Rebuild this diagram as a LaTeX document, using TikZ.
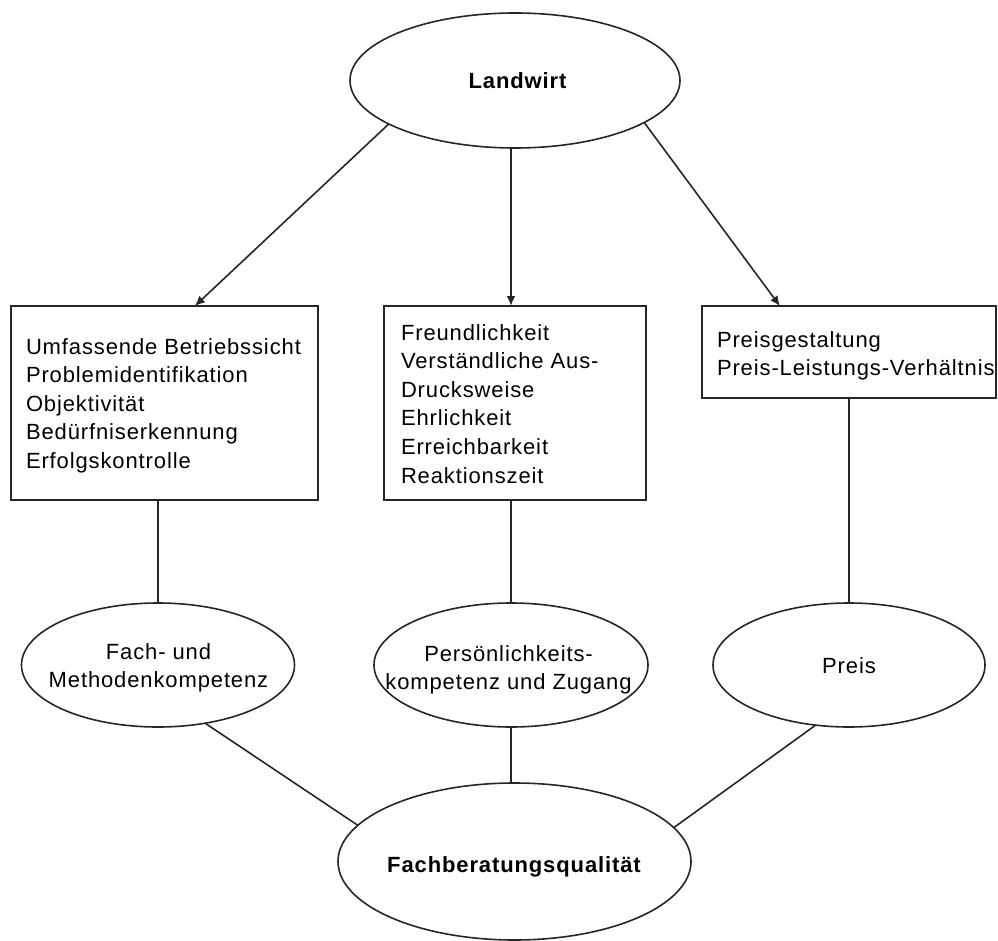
\documentclass[tikz,border=0pt]{standalone}
\usepackage{fontspec}
\setmainfont{Liberation Sans}[LetterSpace=4]
\usetikzlibrary{shapes.geometric,arrows.meta,calc}

\begin{document}
\begin{tikzpicture}[x=1pt,y=-1pt,
  every node/.style={inner sep=0pt,outer sep=0pt},
  oval/.style={ellipse,draw=black!85,line width=1.6pt},
  boxnode/.style={rectangle,draw=black!85,line width=2pt},
  txt/.style={font=\fontsize{22}{28.6}\selectfont,text=black},
  btxt/.style={font=\fontsize{22}{28.6}\selectfont\bfseries,text=black},
  link/.style={draw=black!85,line width=1.6pt},
  vlink/.style={draw=black!85,line width=2pt},
  arr/.style={link,-{Latex[length=10pt,width=9pt]}}]

% page frame
\useasboundingbox (0,0) rectangle (998,941);

% top: the farmer
\node[oval,minimum width=330,minimum height=135] (L) at (515,80.5) {};
\node[btxt,anchor=base] (Lt) at (517.5,89) {Landwirt};

% criteria boxes
\node[boxnode,minimum width=307,minimum height=194] (b1) at (164.5,403) {};
\node[boxnode,minimum width=262,minimum height=194] (b2) at (515,403) {};
\node[boxnode,minimum width=294,minimum height=92] (b3) at (849,352) {};

\node[txt,anchor=north west,align=left] (b1t) at (26,336)
  {\rule{0pt}{18pt}Umfassende Betriebssicht\\Problemidentifikation\\Objektivität\\Bedürfniserkennung\\Erfolgskontrolle};
\node[txt,anchor=north west,align=left] (b2t) at (401,322)
  {\rule{0pt}{18pt}Freundlichkeit\\Verständliche Aus-\\Drucksweise\\Ehrlichkeit\\Erreichbarkeit\\Reaktionszeit};
\node[txt,anchor=north west,align=left] (b3t) at (717,329)
  {\rule{0pt}{18pt}Preisgestaltung\\Preis-Leistungs-Verhältnis};

% competence ellipses
\node[oval,minimum width=273,minimum height=124] (e1) at (158,665) {};
\node[oval,minimum width=274,minimum height=124] (e2) at (511,665) {};
\node[oval,minimum width=272,minimum height=124] (e3) at (849,665) {};

\node[txt,anchor=north,align=center] (e1t) at (158.5,641)
  {\rule{0pt}{18pt}Fach- und\\Methodenkompetenz};
\node[txt,anchor=north,align=center] (e2t) at (508.5,643)
  {\rule{0pt}{18pt}Persönlichkeits-\\kompetenz und Zugang};
\node[txt,anchor=base] (e3t) at (849,673) {Preis};

% bottom: overall quality
\node[oval,minimum width=353,minimum height=157] (F) at (514.5,861.5) {};
\node[btxt,anchor=base] (Ft) at (514,872) {Fachberatungsqualität};

% arrows from the farmer to the criteria
\coordinate (a1) at ($(b1.north west)!0.599!(b1.north east)$);
\coordinate (a2) at (b2.north -| e2.north);
\coordinate (a3) at ($(b3.north west)!0.265!(b3.north east)$);
\draw[arr] (L.199) -- (a1);
\draw[arr,line width=2pt] (L.south -| a2) -- (a2);
\draw[arr] (L.-18.5) -- (a3);

% criteria to competences
\draw[vlink] (b1.south -| e1.north) -- (e1.north);
\draw[vlink] (b2.south -| e2.north) -- (e2.north);
\draw[vlink] (b3.south) -- (e3.north);

% competences to overall quality
\draw[link] (e1.-51) -- (F.167.5);
\draw[vlink] (e2.south) -- (e2.south |- F.north);
\draw[link] (e3.241) -- (F.12.4);
\end{tikzpicture}
\end{document}
